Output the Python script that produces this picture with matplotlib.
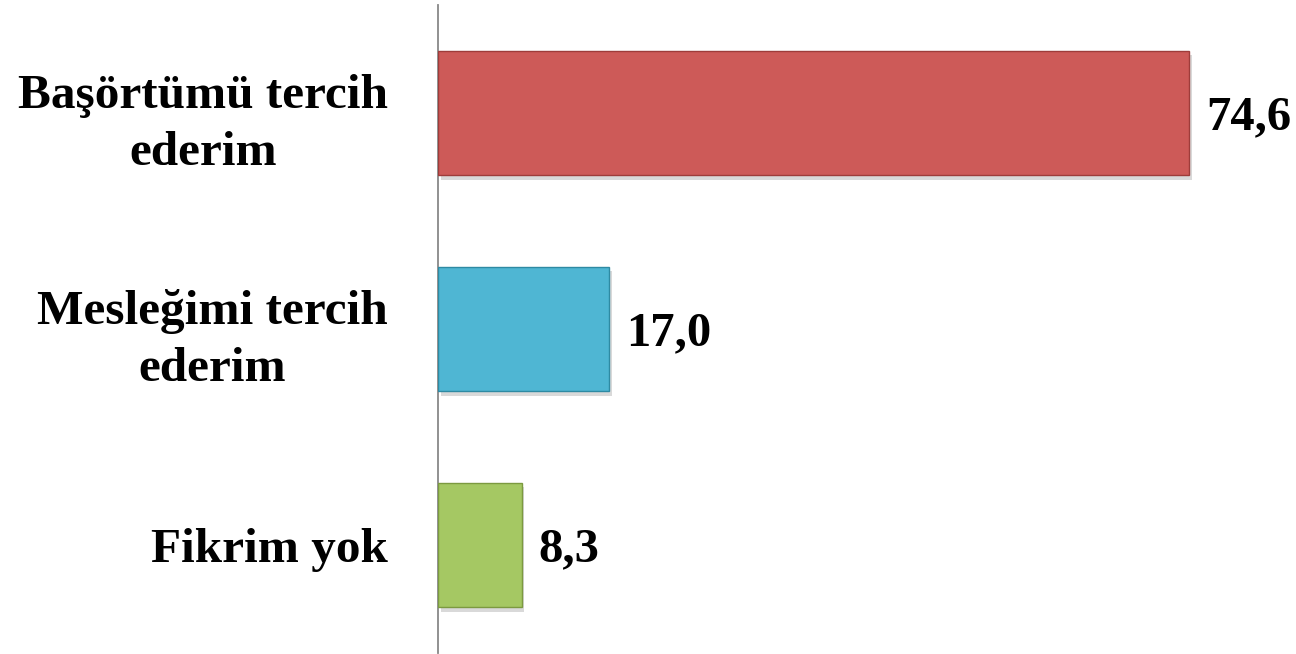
import matplotlib
matplotlib.use("Agg")
import matplotlib.pyplot as plt
import matplotlib.patheffects as pe

categories = ["Başörtümü tercih\nederim", "Mesleğimi tercih\nederim", "Fikrim yok"]
values = [74.6, 17.0, 8.3]
value_labels = ["74,6", "17,0", "8,3"]
colors = ["#CD5A58", "#4FB6D3", "#A5C863"]
edge_colors = ["#9E3C3A", "#2E8AA3", "#7C9A40"]

fig = plt.figure(figsize=(12.96, 6.54), dpi=100)
ax = fig.add_axes([438/1296, 1 - 653/654, 1 - 438/1296, 648/654])

font = dict(family=["Liberation Serif"], weight="bold")
ypos = list(range(len(categories)))
bars = ax.barh(ypos, values, height=0.578, color=colors, edgecolor=edge_colors, linewidth=1.0, zorder=3)
for b in bars:
    b.set_path_effects([pe.SimplePatchShadow(offset=(2, -3), shadow_rgbFace="#000000", alpha=0.15), pe.Normal()])

for y, v, lab in zip(ypos, values, value_labels):
    ax.text(v + 1.65, y + 0.02, lab, va="center", ha="left", fontsize=35, color="black", **font)

ax.set_ylim(len(categories) - 0.5, -0.5)
ax.set_xlim(0, 85.2)
ax.set_yticks(ypos)
ax.set_yticklabels(categories, fontsize=35.5, ha="right", multialignment="center", linespacing=1.38, **font)
ax.tick_params(axis="y", length=0, pad=36)
ax.set_xticks([])
for s in ["top", "right", "bottom"]:
    ax.spines[s].set_visible(False)
ax.spines["left"].set_color("#888888")
ax.spines["left"].set_linewidth(1.3)

fig.savefig("out.png", dpi=100)
